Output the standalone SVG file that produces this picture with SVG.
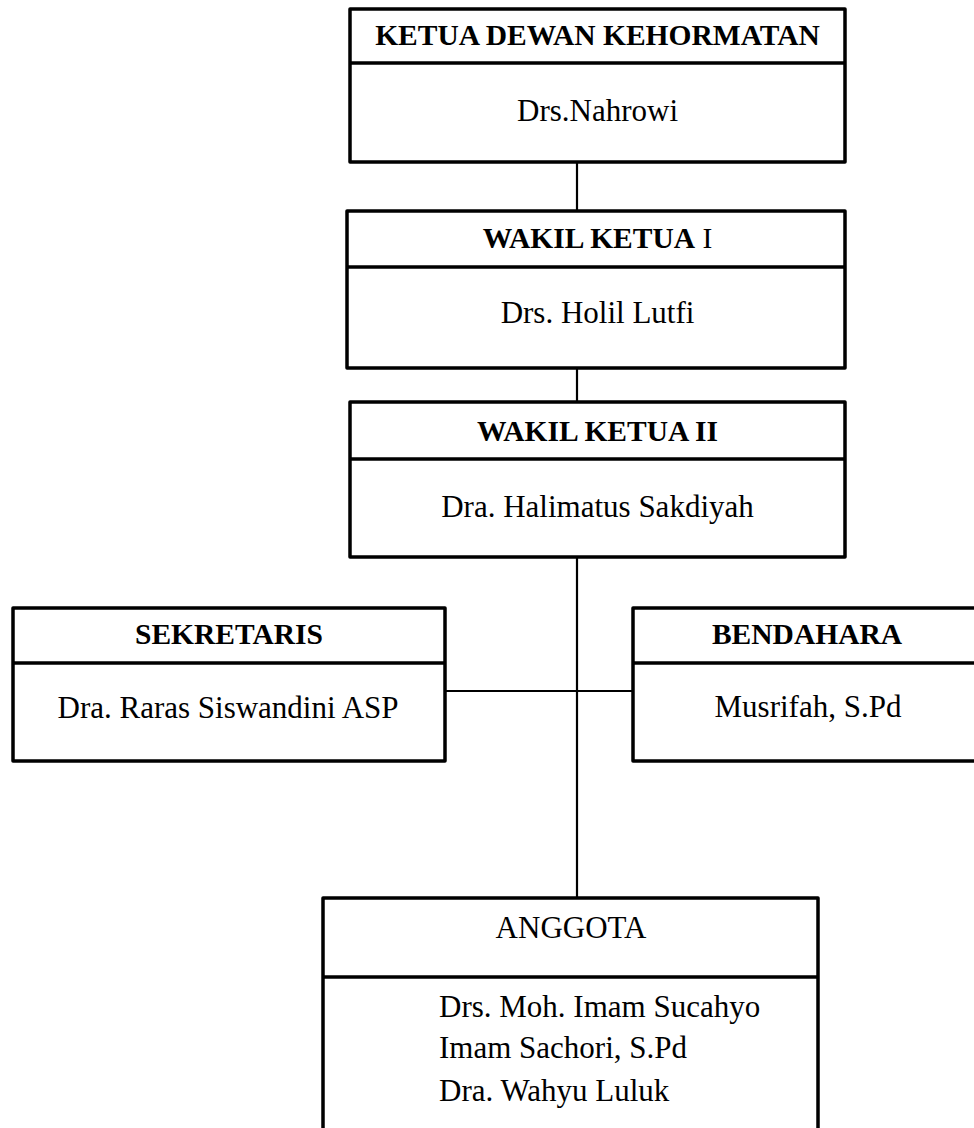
<svg xmlns="http://www.w3.org/2000/svg" width="974" height="1128" viewBox="0 0 974 1128">
<style>
.box{fill:#fff;stroke:#000;stroke-width:3.5;stroke-linejoin:round}
.div{stroke:#000;stroke-width:3.5}
.con{stroke:#000;stroke-width:2.2;fill:none}
.h{font-family:"Liberation Serif","Times New Roman",serif;font-size:29.5px;font-weight:bold;text-anchor:middle;fill:#000}
.t{font-family:"Liberation Serif","Times New Roman",serif;font-size:31px;text-anchor:middle;fill:#000}
.l{font-family:"Liberation Serif","Times New Roman",serif;font-size:31px;fill:#000}
</style>
<rect width="974" height="1128" fill="#fff"/>
<g id="connectors">
<line class="con" x1="577" y1="162" x2="577" y2="211"/>
<line class="con" x1="577" y1="368" x2="577" y2="402"/>
<line class="con" x1="577" y1="557" x2="577" y2="898"/>
<line class="con" x1="445" y1="691" x2="633" y2="691"/>
</g>
<g id="ketua">
<rect class="box" x="350" y="9" width="495" height="153"/>
<line class="div" x1="350" y1="63" x2="845" y2="63"/>
<text class="h" x="597.5" y="45">KETUA DEWAN KEHORMATAN</text>
<text class="t" x="597.5" y="121">Drs.Nahrowi</text>
</g>
<g id="wakil1">
<rect class="box" x="347" y="211" width="498" height="157"/>
<line class="div" x1="347" y1="267" x2="845" y2="267"/>
<text class="h" x="597.5" y="248">WAKIL KETUA<tspan font-weight="normal"> I</tspan></text>
<text class="t" x="597.5" y="323">Drs. Holil Lutfi</text>
</g>
<g id="wakil2">
<rect class="box" x="350" y="402" width="495" height="155"/>
<line class="div" x1="350" y1="459" x2="845" y2="459"/>
<text class="h" x="597.5" y="441">WAKIL KETUA II</text>
<text class="t" x="597.5" y="517">Dra. Halimatus Sakdiyah</text>
</g>
<g id="sekretaris">
<rect class="box" x="13" y="608" width="432" height="153"/>
<line class="div" x1="13" y1="663" x2="445" y2="663"/>
<text class="h" x="229" y="644">SEKRETARIS</text>
<text class="t" x="228" y="718">Dra. Raras Siswandini ASP</text>
</g>
<g id="bendahara">
<rect class="box" x="633" y="608" width="360" height="153"/>
<line class="div" x1="633" y1="663" x2="993" y2="663"/>
<text class="h" x="807" y="644">BENDAHARA</text>
<text class="t" x="808" y="717">Musrifah, S.Pd</text>
</g>
<g id="anggota">
<rect class="box" x="323" y="898" width="495" height="260"/>
<line class="div" x1="323" y1="977" x2="818" y2="977"/>
<text class="t" x="571" y="938">ANGGOTA</text>
<text class="l" x="439" y="1017">Drs. Moh. Imam Sucahyo</text>
<text class="l" x="439" y="1058">Imam Sachori, S.Pd</text>
<text class="l" x="439" y="1101">Dra. Wahyu Luluk</text>
</g>
</svg>
